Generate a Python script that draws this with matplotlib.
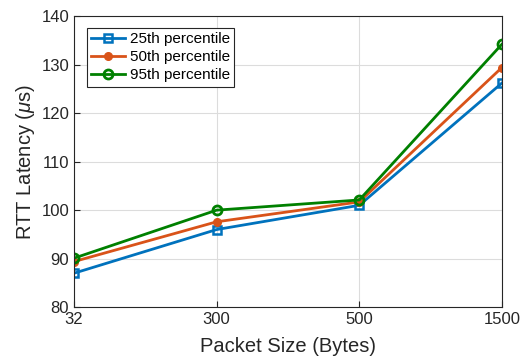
import matplotlib
matplotlib.use("Agg")
import matplotlib.pyplot as plt

plt.rcParams['font.family'] = ['Liberation Sans', 'DejaVu Sans']
plt.rcParams['mathtext.fontset'] = 'custom'
plt.rcParams['mathtext.it'] = 'Liberation Sans:italic'

# datos
sizes = ['32', '300', '500', '1500']
p25 = [87.0, 96.0, 101.0, 126.2]
p50 = [89.4, 97.6, 101.7, 129.4]
p95 = [90.1, 100.0, 102.1, 134.2]

fig = plt.figure(figsize=(5.25, 3.58), dpi=100)
ax = fig.add_axes([0.141, 0.142, 0.815, 0.813])

x = range(len(sizes))
ax.plot(x, p25, color='#0072BD', lw=2, marker='s', ms=5.5, mfc='none', mew=1.8, label='25th percentile')
ax.plot(x, p50, color='#D95319', lw=2, marker='o', ms=5.5, mfc='#D95319', label='50th percentile')
ax.plot(x, p95, color='#008000', lw=2, marker='o', ms=6.5, mfc='none', mew=2, label='95th percentile')

ax.set_xlim(0, 3)
ax.set_ylim(80, 140)
ax.set_xticks(list(x))
ax.set_xticklabels(sizes)
ax.set_yticks(range(80, 141, 10))
ax.grid(True, color='#dcdcdc', lw=0.8)
ax.set_axisbelow(True)
ax.tick_params(labelsize=12, direction='in', length=4, color='#262626', labelcolor='#262626')
for s in ax.spines.values():
    s.set_color('#262626')
    s.set_linewidth(0.8)

ax.set_xlabel('Packet Size (Bytes)', fontsize=14.5, color='#262626', labelpad=7)
ax.set_ylabel(r'RTT Latency ($\mu$s)', fontsize=14.5, color='#262626', labelpad=3)

leg = ax.legend(loc='upper left', bbox_to_anchor=(0.03, 0.96), fontsize=11, fancybox=False,
                edgecolor='#262626', framealpha=1, handlelength=2.2, handletextpad=0.3,
                borderpad=0.3, labelspacing=0.25, borderaxespad=0)
leg.get_frame().set_linewidth(0.8)

fig.savefig('out.png', dpi=100)
